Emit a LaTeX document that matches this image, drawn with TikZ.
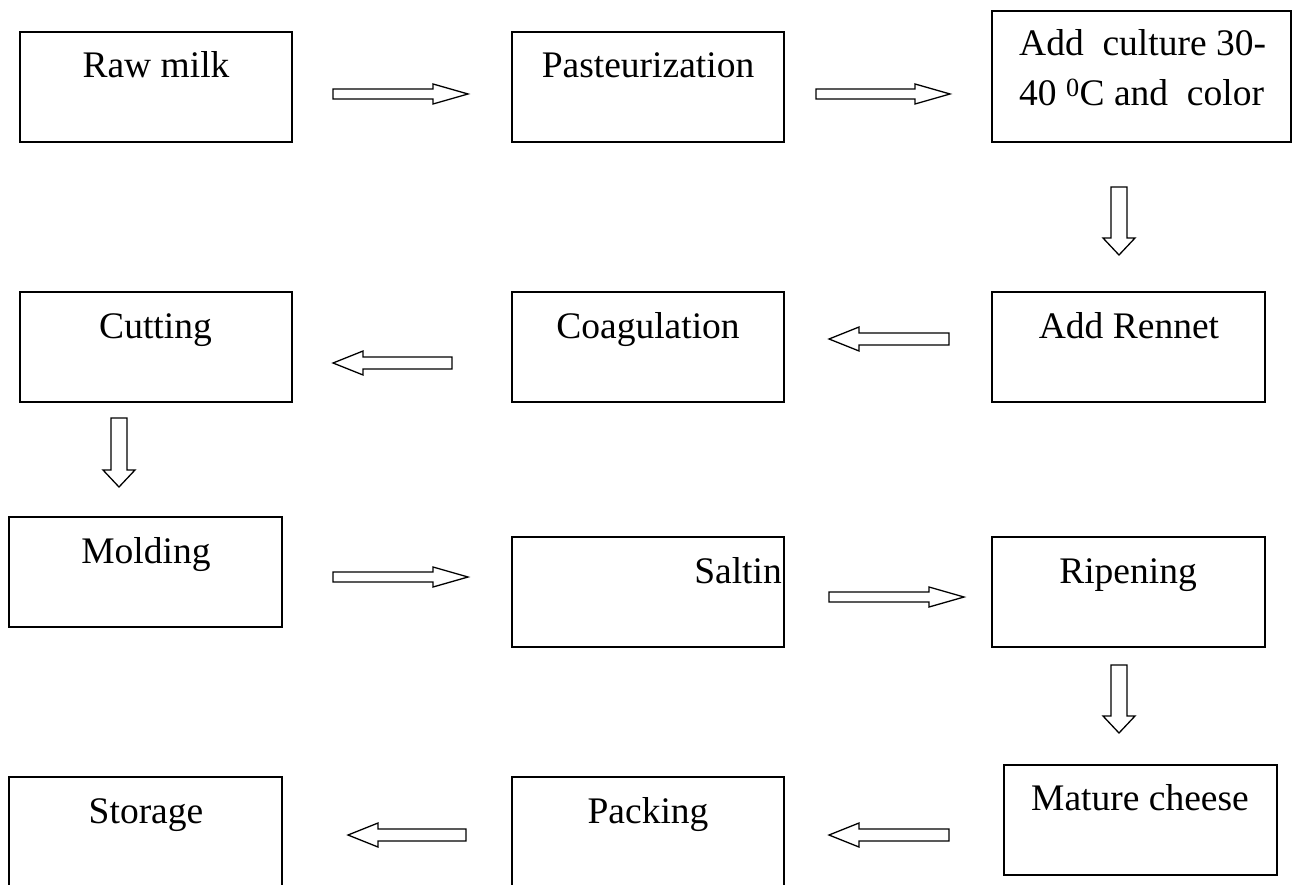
\documentclass[tikz,border=0pt]{standalone}
\usepackage{fontspec}
\setmainfont{Liberation Serif}
\usetikzlibrary{calc}
\tikzset{
  box/.style={draw, line width=1.6pt, inner sep=0pt, outer sep=0pt},
  lbl/.style={anchor=base, inner sep=0pt, font=\fontsize{37.5}{50}\selectfont},
  blk/.style={draw, line width=1.3pt, fill=white, line join=miter},
}
% #1 start, #2 tip, #3 head length, #4 shaft half width, #5 head half width
\newcommand\blkarrow[5]{%
  \coordinate (hb) at ($(#2)!#3!(#1)$);
  \draw[blk] ($(#1)!#4!90:(#2)$) -- ($(hb)!#4!-90:(#1)$) -- ($(hb)!#5!-90:(#1)$)
    -- (#2) -- ($(hb)!#5!90:(#1)$) -- ($(hb)!#4!90:(#1)$) -- ($(#1)!#4!-90:(#2)$) -- cycle;}
\begin{document}
\begin{tikzpicture}[x=1pt,y=-1pt]
\useasboundingbox (0,0) rectangle (1296,885);
\clip (0,0) rectangle (1296,885);
\fill[white] (0,0) rectangle (1296,885);

% boxes
\node[box, minimum width=272pt, minimum height=110pt] (raw) at (156,87) {};
\node[box, minimum width=272pt, minimum height=110pt] (past) at (648,87) {};
\node[box, minimum width=299pt, minimum height=131pt] (cult) at (1141.5,76.5) {};
\node[box, minimum width=273pt, minimum height=110pt] (renn) at (1128.5,347) {};
\node[box, minimum width=272pt, minimum height=110pt] (coag) at (648,347) {};
\node[box, minimum width=272pt, minimum height=110pt] (cutt) at (156,347) {};
\node[box, minimum width=273pt, minimum height=110pt] (mold) at (145.5,572) {};
\node[box, minimum width=272pt, minimum height=110pt] (salt) at (648,592) {};
\node[box, minimum width=273pt, minimum height=110pt] (ripe) at (1128.5,592) {};
\node[box, minimum width=273pt, minimum height=110pt] (matu) at (1140.5,820) {};
\node[box, minimum width=272pt, minimum height=130pt] (pack) at (648,842) {};
\node[box, minimum width=273pt, minimum height=130pt] (stor) at (145.5,842) {};

% labels
\node[lbl] (traw) at (156,78) {Raw milk};
\node[lbl] (tpast) at (648,78) {Pasteurization};
\node[lbl, anchor=base west] (tcult1) at (1019,56) {Add\ \ culture 30-};
\node[lbl, anchor=base west] (tcult2) at (1019,106) {40 \textsuperscript{0}C and\ \ color};
\node[lbl] (trenn) at (1129,338) {Add Rennet};
\node[lbl] (tcoag) at (648,338) {Coagulation};
\node[lbl] (tcutt) at (155.5,338) {Cutting};
\node[lbl] (tmold) at (146,563) {Molding};
\node[lbl, anchor=base east] (tsalt) at (782,583) {Saltin};
\node[lbl] (tripe) at (1128,583) {Ripening};
\node[lbl] (tmatu) at (1140,810) {Mature cheese};
\node[lbl] (tpack) at (648,823) {Packing};
\node[lbl] (tstor) at (146,823) {Storage};

% arrow end points
\coordinate (a1s) at (333,94);   \coordinate (a1e) at (468,94);
\coordinate (a2s) at (816,94);   \coordinate (a2e) at (950,94);
\coordinate (a3s) at (1119,187); \coordinate (a3e) at (1119,255);
\coordinate (a4s) at (949,339);  \coordinate (a4e) at (829,339);
\coordinate (a5s) at (452,363);  \coordinate (a5e) at (333,363);
\coordinate (a6s) at (119,418);  \coordinate (a6e) at (119,487);
\coordinate (a7s) at (333,577);  \coordinate (a7e) at (468,577);
\coordinate (a8s) at (829,597);  \coordinate (a8e) at (964,597);
\coordinate (a9s) at (1119,665); \coordinate (a9e) at (1119,733);
\coordinate (a10s) at (949,835); \coordinate (a10e) at (829,835);
\coordinate (a11s) at (466,835); \coordinate (a11e) at (348,835);

\blkarrow{a1s}{a1e}{35pt}{5pt}{10pt}
\blkarrow{a2s}{a2e}{35pt}{5pt}{10pt}
\blkarrow{a3s}{a3e}{17pt}{8pt}{16pt}
\blkarrow{a4s}{a4e}{30pt}{6pt}{12pt}
\blkarrow{a5s}{a5e}{30pt}{6pt}{12pt}
\blkarrow{a6s}{a6e}{17pt}{8pt}{16pt}
\blkarrow{a7s}{a7e}{35pt}{5pt}{10pt}
\blkarrow{a8s}{a8e}{35pt}{5pt}{10pt}
\blkarrow{a9s}{a9e}{17pt}{8pt}{16pt}
\blkarrow{a10s}{a10e}{30pt}{6pt}{12pt}
\blkarrow{a11s}{a11e}{30pt}{6pt}{12pt}
\end{tikzpicture}
\end{document}
